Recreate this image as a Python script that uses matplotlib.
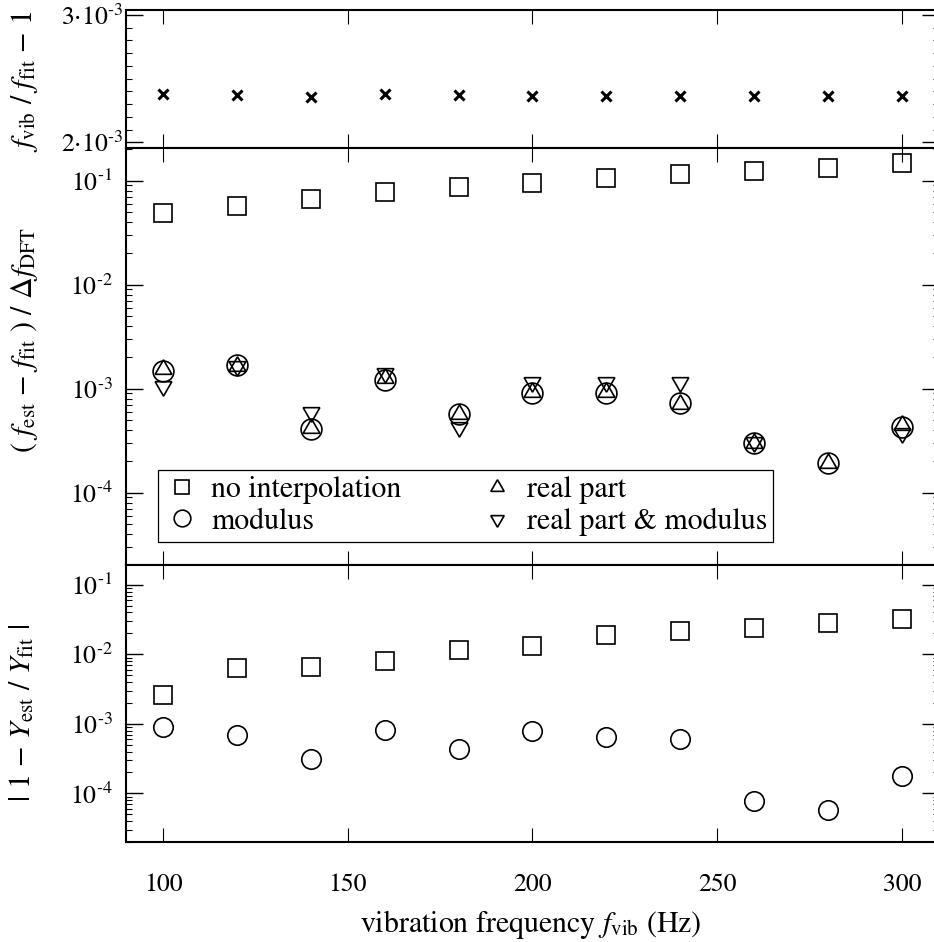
import numpy as np
import matplotlib
matplotlib.use("Agg")
import matplotlib.pyplot as plt
from matplotlib.ticker import FixedLocator, FixedFormatter, MultipleLocator, FuncFormatter

# ---------------- data ----------------
freq = [100, 120, 140, 160, 180, 200, 220, 240, 260, 280, 300]

# top panel: f_vib / f_fit - 1
rel_dev = [2.377e-3, 2.372e-3, 2.358e-3, 2.377e-3, 2.372e-3, 2.366e-3,
           2.366e-3, 2.366e-3, 2.366e-3, 2.366e-3, 2.366e-3]

# middle panel: (f_est - f_fit) / Delta f_DFT
f_no_interp = [0.0487, 0.0575, 0.0662, 0.0773, 0.0865, 0.0957, 0.105, 0.117, 0.125, 0.132, 0.147]
f_modulus = [1.48e-3, 1.69e-3, 4.09e-4, 1.21e-3, 5.67e-4, 9.16e-4, 9.16e-4, 7.33e-4, 3.03e-4, 1.95e-4, 4.31e-4]
f_real = [1.53e-3, 1.66e-3, 4.17e-4, 1.27e-3, 5.67e-4, 9.2e-4, 9.2e-4, 7.2e-4, 3.0e-4, 1.95e-4, 4.45e-4]
f_real_mod = [1.07e-3, 1.66e-3, 6.0e-4, 1.41e-3, 4.3e-4, 1.16e-3, 1.16e-3, 1.16e-3, 3.1e-4, np.nan, 3.78e-4]

# bottom panel: |1 - Y_est / Y_fit|
y_no_interp = [2.6e-3, 6.28e-3, 6.63e-3, 8.09e-3, 1.153e-2, 1.33e-2, 1.9e-2, 2.19e-2, 2.42e-2, 2.79e-2, 3.22e-2]
y_modulus = [9.08e-4, 6.9e-4, 3.12e-4, 8.3e-4, 4.39e-4, 7.9e-4, 6.5e-4, 5.98e-4, 7.8e-5, 5.8e-5, 1.79e-4]

legend_labels = ["no interpolation", "modulus", "real part", "real part & modulus"]
top_ticks = [2e-3, 3e-3]
top_ticklabels = [r"$2{\cdot}10^{\mathrm{‐}3}$", r"$3{\cdot}10^{\mathrm{‐}3}$"]

# ---------------- style ----------------
plt.rcParams.update({
    "font.family": ["STIXGeneral", "DejaVu Serif"],
    "mathtext.fontset": "stix",
    "axes.linewidth": 1.5,
    "xtick.direction": "in", "ytick.direction": "in",
    "xtick.top": True, "ytick.right": True,
    "xtick.major.size": 10, "xtick.major.width": 0.8,
    "ytick.major.size": 12, "ytick.major.width": 1.0,
    "ytick.minor.size": 4.5, "ytick.minor.width": 0.8,
    "xtick.labelsize": 18.5, "ytick.labelsize": 18.5,
})


def log_fmt(v, pos):
    e = int(round(np.log10(v)))
    if e < 0:
        return r"$10^{\mathrm{‐}%d}$" % (-e)
    return r"$10^{%d}$" % e


fig = plt.figure(figsize=(9.34, 9.42), dpi=100)
L = 126 / 934
W = 812.9 / 934
ax1 = fig.add_axes([L, 1 - 148 / 942, W, 138 / 942])
ax2 = fig.add_axes([L, 1 - 564.5 / 942, W, 416.5 / 942])
ax3 = fig.add_axes([L, 1 - 842 / 942, W, 277.5 / 942])

common = dict(linestyle="none", mfc="none", mec="black", color="black")
up_tri = (3, 0, 0)
down_tri = (3, 0, 180)

# top
ax1.plot(freq, rel_dev, marker="x", ms=7, mew=2.2, **common)
ax1.set_ylim(1.955e-3, 3.039e-3)
ax1.yaxis.set_major_locator(FixedLocator(top_ticks))
ax1.yaxis.set_major_formatter(FixedFormatter(top_ticklabels))
ax1.yaxis.set_minor_locator(MultipleLocator(1e-4))
ax1.tick_params(axis="y", pad=2)

# middle
ax2.set_yscale("log")
h1, = ax2.plot(freq, f_no_interp, marker="s", ms=13, mew=1.2, label=legend_labels[0], **common)
h2, = ax2.plot(freq, f_modulus, marker="o", ms=15, mew=1.2, label=legend_labels[1], **common)
h3, = ax2.plot(freq, f_real, marker=up_tri, ms=13.9, mew=1.2, label=legend_labels[2], **common)
h4, = ax2.plot(freq, f_real_mod, marker=down_tri, ms=13.9, mew=1.2, label=legend_labels[3], **common)
ax2.set_ylim(2.04e-5, 0.206)
ax2.tick_params(axis="y", pad=9.5)

leg = ax2.legend(handles=[h1, h2, h3, h4], ncol=2, loc="lower left",
                 bbox_to_anchor=(0.039, 0.0533), borderaxespad=0,
                 fontsize=21.5, markerscale=0.8, handlelength=1.2,
                 handletextpad=0.4, columnspacing=2.6, labelspacing=0.12,
                 borderpad=0.2, fancybox=False, framealpha=1, edgecolor="black")
leg.get_frame().set_linewidth(0.9)

# bottom
ax3.set_yscale("log")
ax3.plot(freq, y_no_interp, marker="s", ms=13.5, mew=1.2, **common)
ax3.plot(freq, y_modulus, marker="o", ms=14, mew=1.2, **common)
ax3.set_ylim(2.0e-5, 0.196)
ax3.tick_params(axis="y", pad=9.5)
ax3.tick_params(axis="x", pad=22)

for ax in (ax2, ax3):
    ax.yaxis.set_major_formatter(FuncFormatter(log_fmt))

for ax in (ax1, ax2, ax3):
    ax.set_xlim(90, 310)
    ax.xaxis.set_major_locator(FixedLocator([100, 150, 200, 250, 300]))
for ax in (ax1, ax2):
    ax.tick_params(axis="x", labelbottom=False)

# axis labels
fig.text(25 / 934, 1 - 81 / 942, r"$f_\mathrm{vib}$ / $f_\mathrm{fit}$ − 1",
         rotation=90, ha="center", va="center", fontsize=21.5)
fig.text(25 / 934, 1 - 340 / 942,
         r"( $f_\mathrm{est}$ − $f_\mathrm{fit}$ ) / $\Delta f_\mathrm{DFT}$",
         rotation=90, ha="center", va="center", fontsize=21.5)
fig.text(23 / 934, 1 - 713 / 942, r"| 1 − $Y_\mathrm{est}$ / $Y_\mathrm{fit}$ |",
         rotation=90, ha="center", va="center", fontsize=21.5)
fig.text(531 / 934, 1 - 932 / 942, r"vibration frequency $f_\mathrm{vib}$ (Hz)",
         ha="center", va="baseline", fontsize=21.5)

fig.savefig("out.png", dpi=100)
